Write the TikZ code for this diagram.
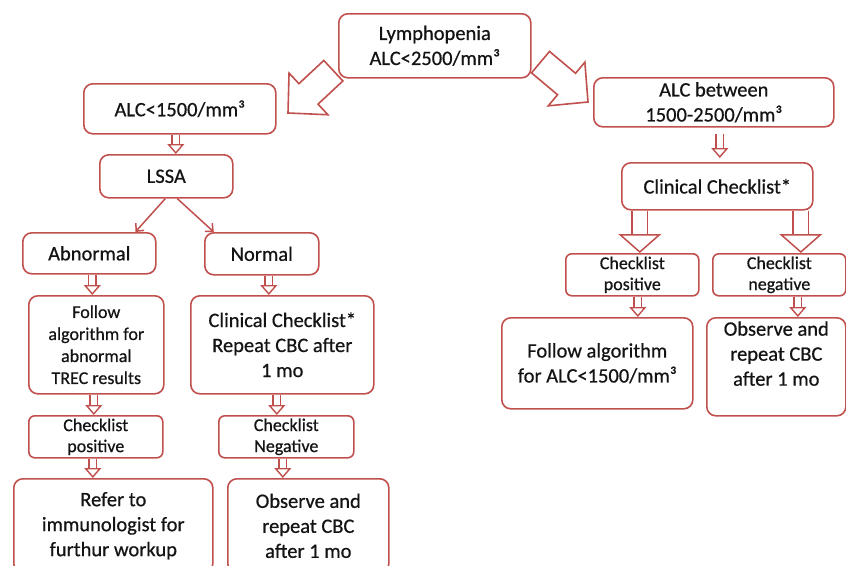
\documentclass[tikz,border=0pt]{standalone}
\usepackage{fontspec}
\setmainfont{Carlito}[FakeBold=0.6]
\usetikzlibrary{arrows.meta,positioning,calc}
\definecolor{ink}{HTML}{141414}
\definecolor{brick}{HTML}{C0504D}
\tikzset{
  box/.style={draw=brick,line width=1.6pt,rounded corners=9pt,fill=white,inner sep=0pt,align=center,anchor=north west,text=ink,font=\fontsize{20.5}{25}\selectfont},
  sbox/.style={box,rounded corners=6pt,font=\fontsize{18}{21}\selectfont},
  ar/.style={-{Straight Barb[length=6pt,width=11pt,line width=1.5pt]},draw=brick,line width=1.5pt},
  dbl/.style={draw=brick,line width=1.4pt,double=white,double distance=6pt,-{Triangle[length=10pt,width=17pt,fill=white,line width=1.4pt]}},
  dblw/.style={draw=brick,line width=1.5pt,double=white,double distance=14pt,-{Triangle[length=19pt,width=43pt,fill=white,line width=1.5pt]}},
  pics/blk/.style={code={\draw[draw=brick,line width=1.6pt,fill=white,line join=miter] (0,0) -- (-28,28.5) -- (-28,14) -- (-62,14) -- (-62,-14) -- (-28,-14) -- (-28,-28.5) -- cycle;}},
}

\begin{document}
\begin{tikzpicture}[x=1pt,y=1pt]
  \useasboundingbox (0,0) rectangle (846,-565);

  \node[box,minimum width=192pt,minimum height=64pt] (lym) at (338,-13) {Lymphopenia\\ALC<2500/mm³};

  \node[box,minimum width=192pt,minimum height=50pt] (alcA) at (83,-83) {ALC<1500/mm³};
  \node[box,minimum width=133pt,minimum height=43pt] (lssa) at (99,-154) {LSSA};
  \node[box,minimum width=133pt,minimum height=41pt] (abn) at (22,-232) {Abnormal};
  \node[box,minimum width=114pt,minimum height=42pt] (nor) at (204,-232) {Normal};
  \node[box,minimum width=135pt,minimum height=98pt,font=\fontsize{18}{22}\selectfont] (folA) at (28,-295) {Follow\\algorithm for\\abnormal\\TREC results};
  \node[box,minimum width=183pt,minimum height=98pt] (ccRep) at (190,-295) {Clinical Checklist*\\Repeat CBC after\\1 mo};
  \node[sbox,minimum width=134pt,minimum height=42pt] (chkPA) at (28,-415) {Checklist\\positive};
  \node[sbox,minimum width=135pt,minimum height=42pt] (chkNA) at (218,-415) {Checklist\\Negative};
  \node[box,minimum width=199pt,minimum height=94pt] (refer) at (13,-478) {Refer to\\immunologist for\\furthur workup};
  \node[box,minimum width=161pt,minimum height=94pt] (obsA) at (227,-478) {Observe and\\repeat CBC\\after 1 mo};

  \node[box,minimum width=240pt,minimum height=49pt] (alcB) at (593,-77) {ALC between\\1500-2500/mm³};
  \node[box,minimum width=191pt,minimum height=47pt] (ccB) at (621,-162) {Clinical Checklist*};
  \node[sbox,minimum width=133pt,minimum height=42pt] (chkPB) at (565,-253) {Checklist\\positive};
  \node[sbox,minimum width=133pt,minimum height=42pt] (chkNB) at (712,-253) {Checklist\\negative};
  \node[box,minimum width=191pt,minimum height=91pt] (folB) at (501,-317) {Follow algorithm\\for ALC<1500/mm³};
  \node[box,minimum width=139pt,minimum height=98pt] (obsB) at (706,-317) {Observe and\\repeat CBC\\after 1 mo\\[-6pt]\strut};

  \pic[rotate=223] at (288,-113) {blk};
  \pic[rotate=-40] at (588,-102) {blk};

  \draw[dbl] ($(alcA.south)+(-4,0)$) -- ($(alcA.south |- lssa.north)+(-4,0)$);
  \draw[ar] ($(lssa.south)+(-1,0)$) -- ($(abn.north)+(46,0)$);
  \draw[ar] ($(lssa.south)+(11,0)$) -- ($(nor.north)+(-48,0)$);
  \draw[dbl] ($(abn.south)+(3,0)$) -- ($(abn.south |- folA.north)+(3,0)$);
  \draw[dbl] ($(nor.south)+(7,0)$) -- ($(nor.south |- ccRep.north)+(7,0)$);
  \draw[dbl] ($(folA.south)+(-2.5,0)$) -- ($(folA.south |- chkPA.north)+(-2.5,0)$);
  \draw[dbl] ($(ccRep.south)+(-5.5,0)$) -- ($(ccRep.south |- chkNA.north)+(-5.5,0)$);
  \draw[dbl] ($(chkPA.south)+(-3,0)$) -- ($(chkPA.south |- refer.north)+(-3,0)$);
  \draw[dbl] ($(chkNA.south)+(-3.5,0)$) -- ($(chkNA.south |- obsA.north)+(-3.5,0)$);

  \draw[dbl,shorten <=6pt,shorten >=4pt] ($(alcB.south)+(6,0)$) -- ($(alcB.south |- ccB.north)+(6,0)$);
  \draw[dblw] ($(chkPB.north |- ccB.south)+(7.5,0)$) -- ($(chkPB.north)+(7.5,0)$);
  \draw[dblw] ($(chkNB.north |- ccB.south)+(21.5,0)$) -- ($(chkNB.north)+(21.5,0)$);
  \draw[dbl] ($(chkPB.south)+(5.5,0)$) -- ($(chkPB.south |- folB.north)+(5.5,0)$);
  \draw[dbl] ($(chkNB.south)+(18.5,0)$) -- ($(chkNB.south |- obsB.north)+(18.5,0)$);
\end{tikzpicture}
\end{document}
